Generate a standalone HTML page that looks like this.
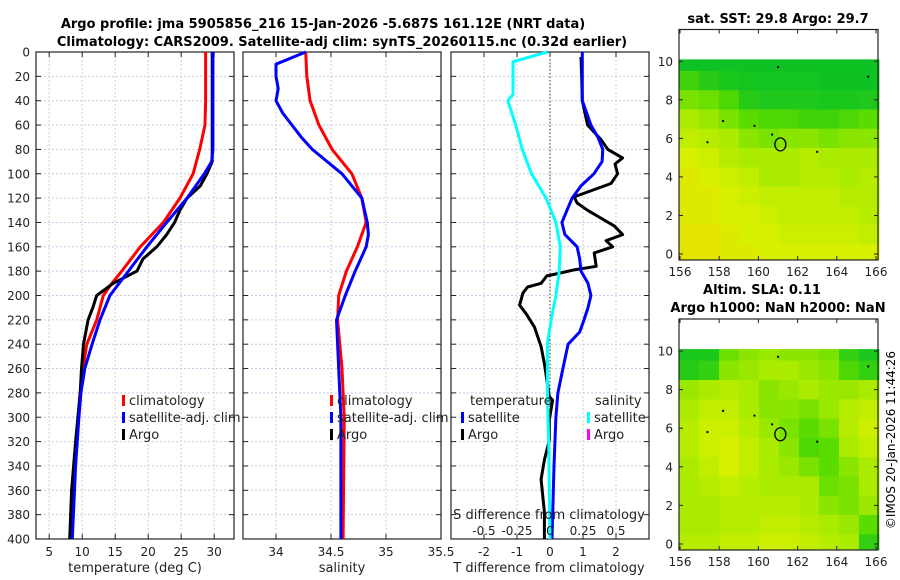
<!DOCTYPE html>
<html><head><meta charset="utf-8"><style>
html,body{margin:0;padding:0;background:#fff;}
svg{display:block;font-family:"DejaVu Sans","Liberation Sans",sans-serif;}
</style></head><body>
<svg id="fig" width="900" height="580" viewBox="0 0 900 580" xmlns="http://www.w3.org/2000/svg">
<text x="323" y="28" font-size="13" font-weight="bold" text-anchor="middle">Argo profile: jma 5905856_216 15-Jan-2026 -5.687S 161.12E (NRT data)</text>
<text x="342" y="46" font-size="13" font-weight="bold" text-anchor="middle">Climatology: CARS2009. Satellite-adj clim: synTS_20260115.nc (0.32d earlier)</text>
<text x="778" y="23" font-size="13" font-weight="bold" text-anchor="middle">sat. SST: 29.8 Argo: 29.7</text>
<text x="762" y="294" font-size="13" font-weight="bold" text-anchor="middle">Altim. SLA: 0.11</text>
<text x="778" y="312" font-size="13" font-weight="bold" text-anchor="middle">Argo h1000: NaN h2000: NaN</text>
<text transform="translate(895,440) rotate(-90)" font-size="12" text-anchor="middle">©IMOS 20-Jan-2026 11:44:26</text>
</svg>
<script>
// ---- data ----
const depthTicks=[0,20,40,60,80,100,120,140,160,180,200,220,240,260,280,300,320,340,360,380,400];
const tempTicks=[5,10,15,20,25,30];
const salTicks=[34,34.5,35,35.5];
const salTickLabels=["34","34.5","35","35.5"];
const dTTicks=[-2,-1,0,1,2];
const dSTicks=[-0.5,-0.25,0,0.25,0.5];
const dSTickLabels=["-0.5","-0.25","0","0.25","0.5"];

const climTDepth=[0,20,40,60,80,100,120,140,160,180,190,200,220,240,260,280,300,340,400];
const climT=[28.7,28.7,28.7,28.6,27.8,26.8,24.8,22.3,18.8,16,14.5,13.2,12.2,10.7,10.1,9.7,9.4,8.8,8.3];
const satTDepth=[0,20,40,60,80,90,100,120,140,160,180,200,220,240,260,280,300,340,400];
const satT=[29.8,29.8,29.8,29.8,29.8,29.6,28.5,25.9,22.8,19.8,17,14.2,12.7,11.5,10.4,9.8,9.5,9.0,8.5];
const argoTDepth=[0,80,90,100,110,120,130,140,150,160,170,180,190,200,210,220,240,260,280,320,360,400];
const argoT=[29.7,29.7,29.7,28.9,27.9,25.9,24.8,24,22.8,21.3,19.2,18.3,14.7,12.2,11.6,10.9,10.2,9.9,9.7,9.0,8.4,8.1];

const climSDepth=[0,20,40,60,80,100,120,140,160,180,200,220,260,300,400];
const climS=[34.27,34.28,34.31,34.39,34.51,34.69,34.78,34.82,34.74,34.64,34.57,34.56,34.6,34.62,34.61];
const satSDepth=[0,10,20,30,40,50,70,80,100,110,120,140,150,160,180,200,220,240,300,400];
const satS=[34.27,34.0,34.0,34.02,34.0,34.06,34.23,34.33,34.6,34.69,34.78,34.83,34.84,34.82,34.72,34.63,34.55,34.56,34.59,34.59];

const dTSatDepth=[0,40,60,70,80,90,100,110,120,140,150,160,170,180,190,200,210,220,230,240,260,280,300,340,400];
const dTSat=[0.98,0.98,1.24,1.45,1.6,1.58,1.33,0.94,0.67,0.36,0.45,0.82,0.9,0.94,1.15,1.24,1.15,1.03,0.9,0.55,0.39,0.24,0.18,0.12,0.06];
const dSSatDepth=[0,8,35,40,60,80,100,120,140,160,180,200,220,240,280,320,400];
const dSSat=[-0.02,-0.28,-0.28,-0.32,-0.26,-0.21,-0.14,-0.03,0.045,0.078,0.07,0.045,0.008,-0.02,-0.02,-0.01,0.0];
const dTArgoDepth=[4,20,40,60,72,80,87,92,100,108,119,124,130,138,143,150,155,160,165,176,179,184,190,193,198,208,215,226,242,256,283,286,302,319,335,351,378,400];
const dTArgo=[0.94,0.96,0.98,1.14,1.55,1.75,2.2,1.97,2.05,1.85,0.73,0.82,1.14,1.64,1.95,2.2,1.7,1.9,1.34,1.4,0.73,-0.1,-0.27,-0.68,-0.82,-0.92,-0.72,-0.47,-0.27,-0.17,-0.02,0.08,-0.02,-0.02,-0.17,-0.27,-0.17,-0.17];

const mapLonTicks=[156,158,160,162,164,166];
const mapLatTicks=[0,2,4,6,8,10];
const mapLats=[10,9,8,7,6,5,4,3,2,1,0];
const sstGrid=[
[0.05,0.05,0.05,0.05,0.05,0.05,0.05,0.05,0.05,0.05],
[0.25,0.15,0.1,0.08,0.08,0.08,0.08,0.05,0.05,0.05],
[0.45,0.4,0.3,0.15,0.12,0.12,0.12,0.1,0.1,0.12],
[0.6,0.55,0.45,0.35,0.3,0.3,0.25,0.25,0.3,0.35],
[0.7,0.65,0.6,0.5,0.45,0.5,0.5,0.45,0.5,0.5],
[0.8,0.75,0.65,0.6,0.6,0.6,0.65,0.6,0.6,0.6],
[0.85,0.8,0.75,0.7,0.6,0.6,0.65,0.65,0.6,0.65],
[0.85,0.85,0.8,0.75,0.7,0.7,0.7,0.7,0.65,0.65],
[0.85,0.85,0.8,0.8,0.75,0.7,0.7,0.7,0.7,0.65],
[0.9,0.9,0.85,0.8,0.8,0.75,0.75,0.75,0.75,0.7],
[0.9,0.9,0.85,0.85,0.8,0.8,0.8,0.8,0.8,0.8]];
const slaGrid=[
[0.1,0.1,0.4,0.5,0.55,0.5,0.5,0.45,0.2,0.1],
[0.15,0.2,0.5,0.55,0.6,0.6,0.55,0.5,0.3,0.2],
[0.55,0.6,0.65,0.6,0.5,0.55,0.6,0.55,0.55,0.6],
[0.6,0.7,0.7,0.6,0.5,0.5,0.45,0.55,0.65,0.7],
[0.65,0.75,0.75,0.65,0.55,0.45,0.35,0.45,0.65,0.75],
[0.65,0.75,0.8,0.7,0.6,0.5,0.3,0.35,0.6,0.7],
[0.6,0.7,0.8,0.7,0.6,0.55,0.45,0.35,0.5,0.6],
[0.6,0.65,0.7,0.65,0.6,0.6,0.6,0.4,0.45,0.6],
[0.6,0.6,0.65,0.65,0.65,0.65,0.6,0.5,0.45,0.55],
[0.6,0.6,0.65,0.65,0.7,0.7,0.65,0.6,0.55,0.35],
[0.65,0.65,0.7,0.7,0.75,0.75,0.7,0.65,0.6,0.2]];
const argoLon=[161.12];
const argoLat=[5.687];

// ---- drawing ----
const NS="http://www.w3.org/2000/svg";
const svg=document.getElementById('fig');
function mk(tag,attrs,parent){const e=document.createElementNS(NS,tag);for(const k in attrs)e.setAttribute(k,attrs[k]);(parent||svg).appendChild(e);return e;}
function txt(x,y,s,size,anchor,parent){const t=mk('text',{x:x,y:y,'font-size':size,'text-anchor':anchor||'middle',fill:'#222'},parent);t.textContent=s;return t;}

const Y0=52,Y1=539;
const yD=d=>Y0+(d/400)*(Y1-Y0);
function xLin(lo,hi,px0,px1){return v=>px0+(v-lo)/(hi-lo)*(px1-px0);}

const xT=xLin(3,33,36,234);
const xS=xLin(33.7,35.5,243,441);
const xDT=xLin(-3,3,451,649);
const xDS=xLin(-0.75,0.75,451,649);

function panel(name,x0,x1,xticks,xs,labels){
  const g=mk('g',{});
  
  
  depthTicks.forEach(d=>{mk('line',{x1:x0,x2:x1,y1:yD(d),y2:yD(d),stroke:'#c4cbe8','stroke-width':1,'stroke-dasharray':'2,2'},g);
    mk('line',{x1:x0,x2:x0+5,y1:yD(d),y2:yD(d),stroke:'#222'},g);
    mk('line',{x1:x1-5,x2:x1,y1:yD(d),y2:yD(d),stroke:'#222'},g);});
  xticks.forEach((v,i)=>{const x=xs(v);
    mk('line',{x1:x,x2:x,y1:Y0,y2:Y1,stroke:'#e0c8c0','stroke-width':1,'stroke-dasharray':'2,2'},g);
    mk('line',{x1:x,x2:x,y1:Y1-5,y2:Y1,stroke:'#222'},g);
    mk('line',{x1:x,x2:x,y1:Y0,y2:Y0+5,stroke:'#222'},g);
    if(labels){const t=txt(x,556,labels[i],12,'middle',g);
      
      }});
  mk('rect',{x:x0,y:Y0,width:x1-x0,height:Y1-Y0,fill:'none',stroke:'#222','stroke-width':1.2},g);
  return g;
}
function line(xs,depths,vals,color,name,w){
  const p=depths.map((d,i)=>(i?'L':'M')+xs(vals[i]).toFixed(1)+','+yD(d).toFixed(1)).join(' ');
  const e=mk('path',{d:p,fill:'none',stroke:color,'stroke-width':w||3,'stroke-linejoin':'round'});
  
  
}

const p1=panel('temperature-panel',36,234,tempTicks,xT,tempTicks.map(String));
const p2=panel('salinity-panel',243,441,salTicks,xS,salTickLabels);
const p3=panel('difference-panel',451,649,dTTicks,xDT,dTTicks.map(String));
depthTicks.forEach(d=>{const t=txt(30,yD(d)+4.5,String(d),12,'end');
  
  });

// panel 1
line(xT,climTDepth,climT,'#ff0000','climatology-temperature-line');
line(xT,argoTDepth,argoT,'#000000','argo-temperature-line');
line(xT,satTDepth,satT,'#0000ff','satellite-temperature-line');
// panel 2
line(xS,climSDepth,climS,'#ff0000','climatology-salinity-line');
line(xS,satSDepth,satS,'#0000ff','satellite-salinity-line');
// panel 3
mk('line',{x1:xDT(0),x2:xDT(0),y1:Y0,y2:Y1,stroke:'#334422','stroke-width':1,'stroke-dasharray':'1.5,2'});
line(xDT,dTArgoDepth,dTArgo,'#000000','argo-temperature-difference-line');
line(xDT,dTSatDepth,dTSat,'#0000ff','satellite-temperature-difference-line');
line(xDS,dSSatDepth,dSSat,'#00ffff','satellite-salinity-difference-line');

// axis titles
[[135,572,'temperature (deg C)','x-axis-title-temperature'],[342,572,'salinity','x-axis-title-salinity'],[549,572,'T difference from climatology','x-axis-title-t-difference'],[549,519,'S difference from climatology','x-axis-title-s-difference']].forEach(a=>{
  const t=txt(a[0],a[1],a[2],13,'middle');
  
  });
dSTicks.forEach((v,i)=>{const t=txt(xDS(v),535,dSTickLabels[i],12,'middle');
  
  });

// legends
function legend(x,y,color,label,name){
  const g=mk('g',{});
  
  
  mk('rect',{x:x,y:y-10,width:3,height:11,fill:color},g);
  txt(x+7,y,label,13,'start',g);
}
legend(122,405,'#ff0000','climatology','legend-climatology');
legend(122,422,'#0000ff','satellite-adj. clim','legend-satellite-adj');
legend(122,439,'#000000','Argo','legend-argo');
legend(330,405,'#ff0000','climatology','legend-climatology-salinity');
legend(330,422,'#0000ff','satellite-adj. clim','legend-satellite-adj-salinity');
legend(330,439,'#000000','Argo','legend-argo-salinity');
{const t=txt(470,405,'temperature',13,'start');}
{const t=txt(595,405,'salinity',13,'start');}
legend(461,422,'#0000ff','satellite','legend-temperature-satellite');
legend(461,439,'#000000','Argo','legend-temperature-argo');
legend(587,422,'#00ffff','satellite','legend-salinity-satellite');
legend(587,439,'#ff00ff','Argo','legend-salinity-argo');

// maps
function cmap(v){const st=[[0,[0,190,40]],[0.35,[90,220,0]],[0.6,[170,235,0]],[0.8,[215,240,0]],[1,[240,215,0]]];
  for(let i=1;i<st.length;i++){if(v<=st[i][0]){const a=st[i-1],b=st[i],f=(v-a[0])/(b[0]-a[0]);
    return 'rgb('+a[1].map((c,k)=>Math.round(c+(b[1][k]-c)*f)).join(',')+')';}}return 'rgb(240,215,0)';}
function map(name,top,bottom,lat10y,lat0y,grid){
  const g=mk('g',{});
  
  
  const lx=xLin(156,166,680,876), ly=xLin(0,10,lat0y,lat10y);
  const L=679,R=878;
  grid.forEach((row,r)=>row.forEach((v,c)=>{
    const lat=mapLats[r];
    let ya=ly(Math.min(lat+0.5,10.1)), yb=ly(Math.max(lat-0.5,-0.3));
    const lonA=155.95+c*1.02, xa=lx(lonA), xb=lx(lonA+1.02);
    const cell=mk('rect',{x:xa.toFixed(1),y:ya.toFixed(1),width:(xb-xa+0.5).toFixed(1),height:(yb-ya+0.5).toFixed(1),fill:cmap(v)},g);
    
    
  }));
  mk('rect',{x:L,y:top,width:R-L,height:bottom-top,fill:'none',stroke:'#222','stroke-width':1.2},g);
  mapLonTicks.forEach(v=>{mk('line',{x1:lx(v),x2:lx(v),y1:bottom,y2:bottom-4,stroke:'#222'},g);mk('line',{x1:lx(v),x2:lx(v),y1:top,y2:top+4,stroke:'#222'},g);
    txt(lx(v),bottom+16,String(v),12,'middle',g);});
  mapLatTicks.forEach(v=>{mk('line',{x1:L,x2:L+4,y1:ly(v),y2:ly(v),stroke:'#222'},g);mk('line',{x1:R-4,x2:R,y1:ly(v),y2:ly(v),stroke:'#222'},g);
    txt(L-6,ly(v)+4.5,String(v),12,'end',g);});
  argoLon.forEach((lo,i)=>{const m=mk('ellipse',{cx:lx(lo),cy:ly(argoLat[i]),rx:5.5,ry:6.5,fill:'none',stroke:'#000','stroke-width':1.3},g);
    
    });
  [[158.2,6.9],[163,5.3],[157.4,5.8],[159.8,6.65],[160.7,6.2],[161,9.7],[165.6,9.2]].forEach(p=>mk('rect',{x:lx(p[0])-1,y:ly(p[1])-1,width:2,height:2,fill:'#000'},g));
}
map('sst-map',29.5,260,61.3,254,sstGrid);
map('sla-map',319,550,351,544,slaGrid);
</script>
</body></html>
